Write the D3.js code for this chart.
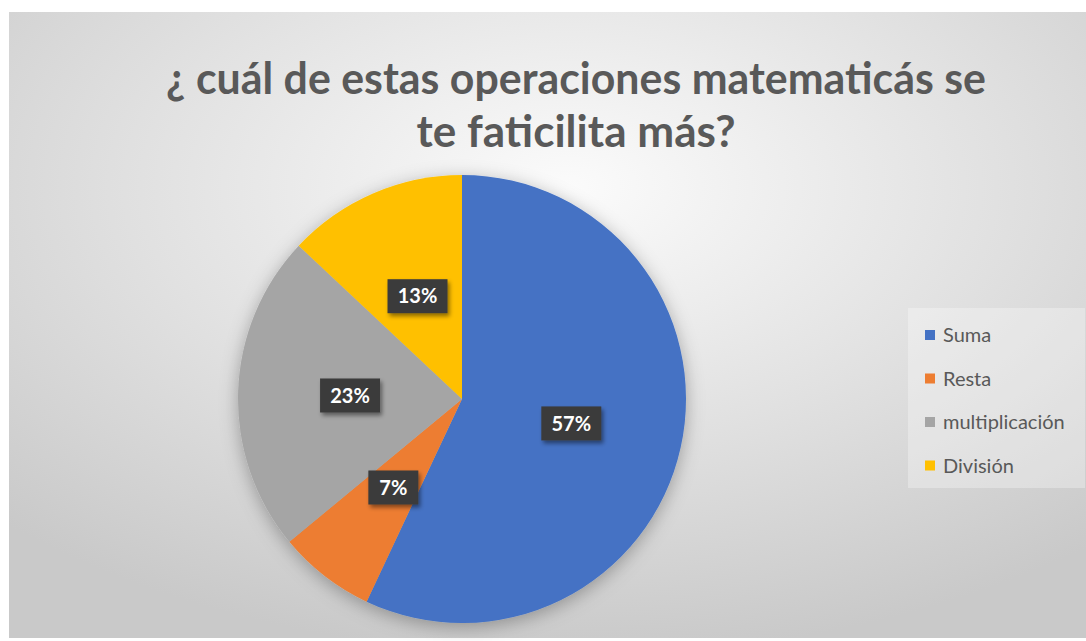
<!DOCTYPE html>
<html>
<head>
<meta charset="utf-8">
<script src="https://cdn.jsdelivr.net/npm/d3@7"></script>
<style>
  body { margin: 0; background: #fff; }
  svg { display: block; }
</style>
</head>
<body>
<div id="chart"></div>
<script>
// Chart data
const categories = ["Suma", "Resta", "multiplicación", "División"];
const values = [57, 7, 23, 13];
const colors = ["#4472C4", "#ED7D31", "#A5A5A5", "#FFC000"];
const titleLines = ["¿ cuál de estas operaciones matematicás se", "te faticilita más?"];

const W = 1086, H = 641;
const font = "Lato, 'Open Sans', sans-serif";

const svg = d3.select("#chart")
    .append("svg")
    .attr("width", W)
    .attr("height", H);

const defs = svg.append("defs");

// background gradient, light near the title
const grad = defs.append("radialGradient")
    .attr("id", "bg")
    .attr("cx", "52%").attr("cy", "28%").attr("r", "75%");
grad.append("stop").attr("offset", "0%").attr("stop-color", "#fbfbfb");
grad.append("stop").attr("offset", "55%").attr("stop-color", "#e0e0e0");
grad.append("stop").attr("offset", "100%").attr("stop-color", "#c9c9c9");

const shadow = defs.append("filter")
    .attr("id", "pieShadow")
    .attr("x", "-20%").attr("y", "-20%").attr("width", "140%").attr("height", "140%");
shadow.append("feDropShadow")
    .attr("dx", 0).attr("dy", 4)
    .attr("stdDeviation", 9)
    .attr("flood-color", "#000")
    .attr("flood-opacity", 0.3);

const labelShadow = defs.append("filter")
    .attr("id", "labelShadow")
    .attr("x", "-30%").attr("y", "-30%").attr("width", "160%").attr("height", "160%");
labelShadow.append("feDropShadow")
    .attr("dx", 2).attr("dy", 3)
    .attr("stdDeviation", 2)
    .attr("flood-color", "#000")
    .attr("flood-opacity", 0.45);

// chart area
svg.append("rect")
    .attr("x", 9).attr("y", 12)
    .attr("width", W - 9).attr("height", 626)
    .attr("fill", "url(#bg)");

// title
const title = svg.append("g")
    .attr("font-family", font)
    .attr("font-weight", "bold")
    .attr("font-size", 44)
    .attr("fill", "#595959")
    .attr("text-anchor", "middle");

const titleWidths = [820, 319];
titleLines.forEach((t, i) => {
    title.append("text")
        .attr("x", 576)
        .attr("y", 94 + i * 53)
        .attr("textLength", titleWidths[i])
        .attr("lengthAdjust", "spacingAndGlyphs")
        .text(t);
});

// pie
const cx = 462, cy = 399, radius = 224;

const pie = d3.pie().sort(null).value(d => d);
const arcs = pie(values);
const arc = d3.arc().innerRadius(0).outerRadius(radius);

const g = svg.append("g")
    .attr("transform", `translate(${cx},${cy})`);

g.append("g")
    .attr("filter", "url(#pieShadow)")
    .selectAll("path")
    .data(arcs)
    .enter()
    .append("path")
    .attr("d", arc)
    .attr("fill", (d, i) => colors[i]);

// data labels
const total = d3.sum(values);
const labels = g.selectAll(".lbl")
    .data(arcs)
    .enter()
    .append("g")
    .attr("class", "lbl")
    .attr("transform", d => `translate(${arc.centroid(d)})`);

labels.append("rect")
    .attr("x", d => (d.value < 10 ? -25 : -30))
    .attr("y", -17)
    .attr("width", d => (d.value < 10 ? 50 : 60))
    .attr("height", 34)
    .attr("fill", "#3b3b3b")
    .attr("filter", "url(#labelShadow)");

labels.append("text")
    .attr("text-anchor", "middle")
    .attr("dy", "0.36em")
    .attr("font-family", font)
    .attr("font-weight", "bold")
    .attr("font-size", 20)
    .attr("fill", "#ffffff")
    .text(d => Math.round(d.value / total * 100) + "%");

// legend
const legend = svg.append("g")
    .attr("transform", "translate(908,308)");

legend.append("rect")
    .attr("width", 177).attr("height", 180)
    .attr("fill", "#ffffff")
    .attr("fill-opacity", 0.3);

const items = legend.selectAll(".item")
    .data(categories)
    .enter()
    .append("g")
    .attr("class", "item")
    .attr("transform", (d, i) => `translate(17,${27 + i * 43.5})`);

items.append("rect")
    .attr("x", 0).attr("y", -5)
    .attr("width", 10).attr("height", 10)
    .attr("fill", (d, i) => colors[i]);

items.append("text")
    .attr("x", 18)
    .attr("dy", "0.35em")
    .attr("font-family", font)
    .attr("font-size", 20)
    .attr("fill", "#595959")
    .text(d => d);
</script>
</body>
</html>
